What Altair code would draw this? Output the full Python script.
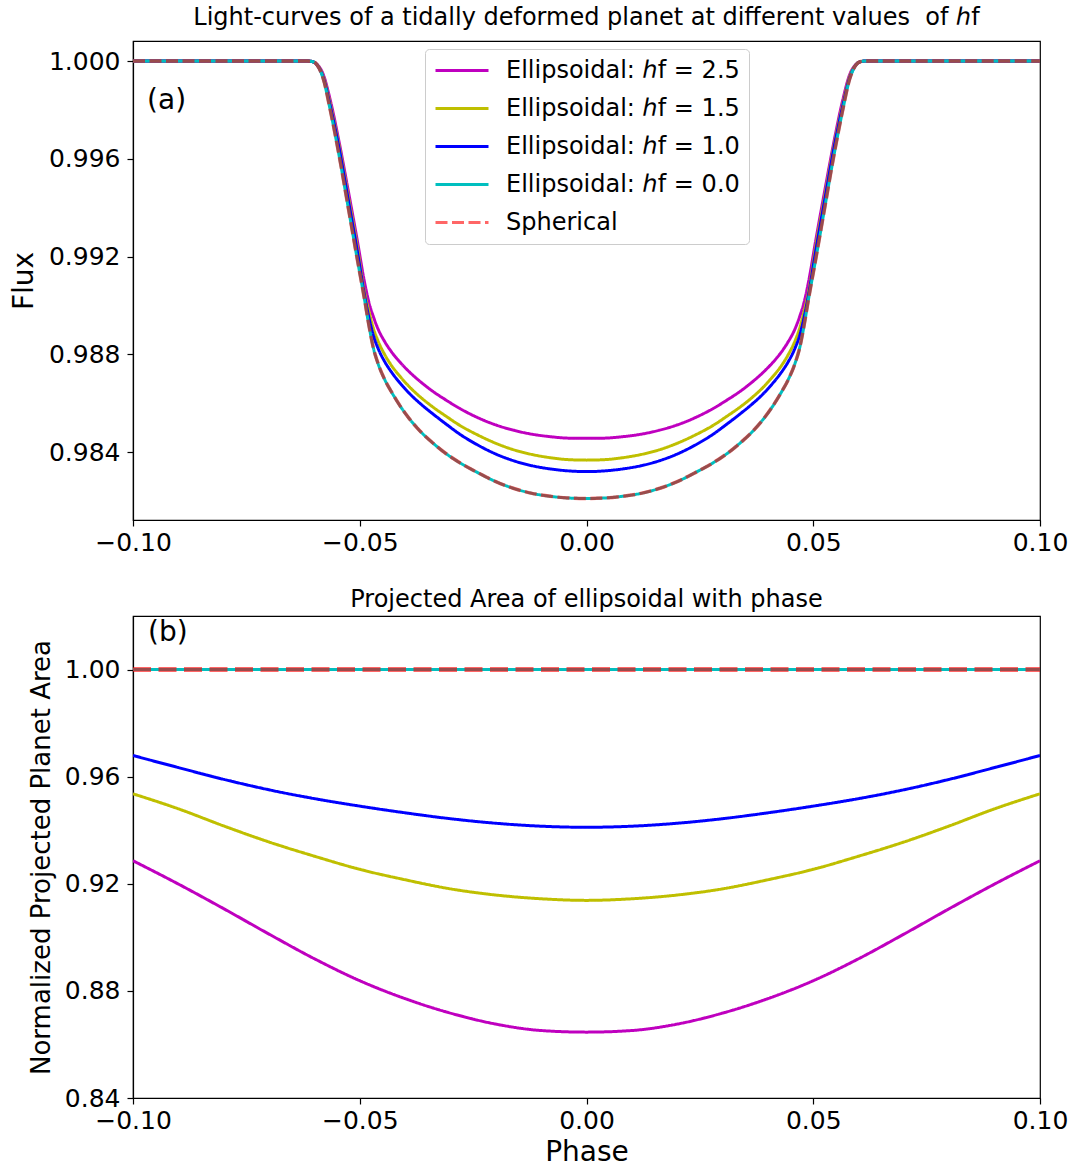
import altair as alt
import pandas as pd

FONT = "DejaVu Sans"

# ---------------- data: panel (a) light curves ----------------
phase_a = [-0.100, -0.090, -0.080, -0.070, -0.0615, -0.0605, -0.0595, -0.058, -0.0565, -0.0545,
           -0.0525, -0.0505, -0.049, -0.048, -0.047, -0.046, -0.0445, -0.043, -0.041, -0.039,
           -0.0365, -0.034, -0.031, -0.028, -0.024, -0.020, -0.016, -0.012, -0.008, -0.004,
           0.000,
           0.004, 0.008, 0.012, 0.016, 0.020, 0.024, 0.028, 0.031, 0.034, 0.0365,
           0.039, 0.041, 0.043, 0.0445, 0.046, 0.047, 0.048, 0.049, 0.0505, 0.0525,
           0.0545, 0.0565, 0.058, 0.0595, 0.0605, 0.0615, 0.070, 0.080, 0.090, 0.100]

flux_h25 = [1.0, 1.0, 1.0, 1.0, 1.0, 0.99998, 0.99988, 0.99943, 0.99840, 0.99664,
            0.99466, 0.99261, 0.99100, 0.99014, 0.98954, 0.98905, 0.98852, 0.98810, 0.98765, 0.98727,
            0.98686, 0.98650, 0.98613, 0.98579, 0.98541, 0.98511, 0.98489, 0.98473, 0.98463, 0.98457,
            0.98456,
            0.98457, 0.98463, 0.98473, 0.98489, 0.98511, 0.98541, 0.98579, 0.98613, 0.98650, 0.98686,
            0.98727, 0.98765, 0.98810, 0.98852, 0.98905, 0.98954, 0.99014, 0.99100, 0.99261, 0.99466,
            0.99664, 0.99840, 0.99943, 0.99988, 0.99998, 1.0, 1.0, 1.0, 1.0, 1.0]

flux_h15 = [1.0, 1.0, 1.0, 1.0, 1.0, 0.99998, 0.99987, 0.99935, 0.99824, 0.99648,
            0.99443, 0.99235, 0.99059, 0.98977, 0.98907, 0.98856, 0.98799, 0.98754, 0.98707, 0.98666,
            0.98623, 0.98586, 0.98547, 0.98510, 0.98470, 0.98436, 0.98409, 0.98390, 0.98377, 0.98369,
            0.98367,
            0.98369, 0.98377, 0.98390, 0.98409, 0.98436, 0.98470, 0.98510, 0.98547, 0.98586, 0.98623,
            0.98666, 0.98707, 0.98754, 0.98799, 0.98856, 0.98907, 0.98977, 0.99059, 0.99235, 0.99443,
            0.99648, 0.99824, 0.99935, 0.99987, 0.99998, 1.0, 1.0, 1.0, 1.0, 1.0]

flux_h10 = [1.0, 1.0, 1.0, 1.0, 1.0, 0.99998, 0.99986, 0.99930, 0.99816, 0.99638,
            0.99429, 0.99218, 0.99047, 0.98952, 0.98877, 0.98826, 0.98770, 0.98727, 0.98680, 0.98639,
            0.98596, 0.98558, 0.98515, 0.98474, 0.98429, 0.98392, 0.98364, 0.98344, 0.98331, 0.98323,
            0.98320,
            0.98323, 0.98331, 0.98344, 0.98364, 0.98392, 0.98429, 0.98474, 0.98515, 0.98558, 0.98596,
            0.98639, 0.98680, 0.98727, 0.98770, 0.98826, 0.98877, 0.98952, 0.99047, 0.99218, 0.99429,
            0.99638, 0.99816, 0.99930, 0.99986, 0.99998, 1.0, 1.0, 1.0, 1.0, 1.0]

flux_h00 = [1.0, 1.0, 1.0, 1.0, 1.0, 0.99998, 0.99986, 0.99924, 0.99799, 0.99608,
            0.99396, 0.99184, 0.99030, 0.98920, 0.98826, 0.98764, 0.98697, 0.98646, 0.98586, 0.98535,
            0.98482, 0.98439, 0.98394, 0.98357, 0.98316, 0.98279, 0.98251, 0.98231, 0.98219, 0.98212,
            0.98210,
            0.98212, 0.98219, 0.98231, 0.98251, 0.98279, 0.98316, 0.98357, 0.98394, 0.98439, 0.98482,
            0.98535, 0.98586, 0.98646, 0.98697, 0.98764, 0.98826, 0.98920, 0.99030, 0.99184, 0.99396,
            0.99608, 0.99799, 0.99924, 0.99986, 0.99998, 1.0, 1.0, 1.0, 1.0, 1.0]

flux_sph = [1.0, 1.0, 1.0, 1.0, 1.0, 0.99998, 0.99986, 0.99924, 0.99799, 0.99608,
            0.99396, 0.99184, 0.99030, 0.98920, 0.98826, 0.98764, 0.98697, 0.98646, 0.98586, 0.98535,
            0.98482, 0.98439, 0.98394, 0.98357, 0.98316, 0.98279, 0.98251, 0.98231, 0.98219, 0.98212,
            0.98210,
            0.98212, 0.98219, 0.98231, 0.98251, 0.98279, 0.98316, 0.98357, 0.98394, 0.98439, 0.98482,
            0.98535, 0.98586, 0.98646, 0.98697, 0.98764, 0.98826, 0.98920, 0.99030, 0.99184, 0.99396,
            0.99608, 0.99799, 0.99924, 0.99986, 0.99998, 1.0, 1.0, 1.0, 1.0, 1.0]

# ---------------- data: panel (b) projected area ----------------
phase_b = [-0.10, -0.09, -0.08, -0.07, -0.06, -0.05, -0.04, -0.03, -0.02, -0.01, 0.00,
           0.01, 0.02, 0.03, 0.04, 0.05, 0.06, 0.07, 0.08, 0.09, 0.10]
area_h25 = [0.9286, 0.9199, 0.9107, 0.9012, 0.8920, 0.8838, 0.8771, 0.8717, 0.8676, 0.8652, 0.8646,
            0.8652, 0.8676, 0.8717, 0.8771, 0.8838, 0.8920, 0.9012, 0.9107, 0.9199, 0.9286]
area_h15 = [0.9536, 0.9480, 0.9416, 0.9356, 0.9303, 0.9254, 0.9215, 0.9181, 0.9158, 0.9144, 0.9138,
            0.9144, 0.9158, 0.9181, 0.9215, 0.9254, 0.9303, 0.9356, 0.9416, 0.9480, 0.9536]
area_h10 = [0.9679, 0.9634, 0.9590, 0.9551, 0.9518, 0.9490, 0.9465, 0.9443, 0.9426, 0.9415, 0.9411,
            0.9415, 0.9426, 0.9443, 0.9465, 0.9490, 0.9518, 0.9551, 0.9590, 0.9634, 0.9679]
area_h00 = [1.0] * 21
area_sph = [1.0] * 21

series_names = ["Ellipsoidal: ℎf = 2.5", "Ellipsoidal: ℎf = 1.5", "Ellipsoidal: ℎf = 1.0",
                "Ellipsoidal: ℎf = 0.0", "Spherical"]
# legend colours (Spherical shown as translucent red, i.e. #ff6666 on white)
series_colors = ["#bf00bf", "#bfbf00", "#0000ff", "#00bfbf", "#ff6666"]
SPH_COLOR = "#ff0000"
SPH_OPACITY = 0.6

x_ticks = [-0.10, -0.05, 0.00, 0.05, 0.10]
y_ticks_a = [0.984, 0.988, 0.992, 0.996, 1.000]
y_ticks_b = [0.84, 0.88, 0.92, 0.96, 1.00]

label_a = pd.DataFrame({"phase": [-0.0969], "value": [0.99836], "txt": ["(a)"]})
label_b = pd.DataFrame({"phase": [-0.0967], "value": [1.0138], "txt": ["(b)"]})

# ---------------- build long tables ----------------
def long_table(phases, columns):
    frames = []
    for name, vals in zip(series_names, columns):
        frames.append(pd.DataFrame({"phase": phases, "value": vals, "series": name}))
    return pd.concat(frames, ignore_index=True)

df_a = long_table(phase_a, [flux_h25, flux_h15, flux_h10, flux_h00, flux_sph])
df_b = long_table(phase_b, [area_h25, area_h15, area_h10, area_h00, area_sph])


def panel(df, ydomain, yticks, yfmt, ytitle, ytitle_size, xtitle, dash_sph, width_sph,
          legend, label_df, title, title_offset, height):
    xscale = alt.Scale(domain=[-0.1, 0.1], nice=False, zero=False)
    yscale = alt.Scale(domain=ydomain, nice=False, zero=False)
    xaxis = alt.Axis(values=x_ticks, format=".2f", title=xtitle, titleFontSize=28,
                     titlePadding=5, labelFlush=False, labelPadding=4)
    yaxis = alt.Axis(values=yticks, format=yfmt, title=ytitle, titleFontSize=ytitle_size,
                     titlePadding=10, labelFlush=False, labelPadding=7)
    dashes = [[1, 0], [1, 0], [1, 0], [1, 0], dash_sph]
    layers = []
    for name in series_names[:4]:
        lyr = alt.Chart(df).transform_filter(alt.datum.series == name).mark_line(
            interpolate="monotone", strokeWidth=3, strokeCap="butt", clip=True
        ).encode(
            x=alt.X("phase:Q", scale=xscale, axis=xaxis),
            y=alt.Y("value:Q", scale=yscale, axis=yaxis),
            color=alt.Color("series:N", scale=alt.Scale(domain=series_names, range=series_colors),
                            legend=legend),
            strokeDash=alt.StrokeDash("series:N", scale=alt.Scale(domain=series_names, range=dashes),
                                      legend=legend),
        )
        layers.append(lyr)
    sph = alt.Chart(df).transform_filter(alt.datum.series == "Spherical").mark_line(
        interpolate="monotone", strokeWidth=width_sph, strokeCap="butt", clip=True,
        color=SPH_COLOR, opacity=SPH_OPACITY, strokeDash=dash_sph
    ).encode(
        x=alt.X("phase:Q", scale=xscale, axis=xaxis),
        y=alt.Y("value:Q", scale=yscale, axis=yaxis),
    )
    layers.append(sph)
    txt = alt.Chart(label_df).mark_text(align="left", baseline="middle", fontSize=28, font=FONT,
                                        color="black").encode(
        x=alt.X("phase:Q", scale=xscale, axis=xaxis),
        y=alt.Y("value:Q", scale=yscale, axis=yaxis),
        text="txt:N",
    )
    layers.append(txt)
    return alt.layer(*layers).properties(
        width=907, height=height,
        title=alt.TitleParams(text=title, offset=title_offset),
    )


legend_a = alt.Legend(title=None, orient="none", legendX=292, legendY=8, symbolType="stroke",
                      symbolSize=2809, symbolStrokeWidth=3, labelFontSize=24, labelFont=FONT,
                      labelColor="black", labelOffset=16, labelLimit=500, clipHeight=25,
                      rowPadding=13, padding=9, strokeColor="#cccccc", fillColor="#ffffff",
                      cornerRadius=4)

top = panel(df_a, [0.98122, 1.00082], y_ticks_a, ".3f", "Flux", 28, None, [12, 4.5], 3.5,
            legend_a, label_a,
            "Light-curves of a tidally deformed planet at different values \u00a0of ℎf", 11, 479)
bottom = panel(df_b, [0.84, 1.02], y_ticks_b, ".2f", "Normalized Projected Planet Area", 26, "Phase",
               [18, 7.5], 5, None, label_b, "Projected Area of ellipsoidal with phase", 4, 482)

chart = alt.vconcat(top, bottom, spacing=31).resolve_scale(
    color="independent", strokeDash="independent"
).properties(
    padding={"left": 9, "top": 5, "right": 5, "bottom": 2}
).configure_axis(
    labelFont=FONT, labelFontSize=25, labelColor="black",
    tickColor="black", tickSize=6, tickWidth=1.2, domainColor="black", domainWidth=1.2,
    grid=False, titleFont=FONT, titleFontWeight="normal", titleColor="black",
).configure_view(
    stroke="black", strokeWidth=1.2
).configure_title(
    font=FONT, fontSize=24, fontWeight="normal", color="black", anchor="middle",
    frame="group"
)

chart.save("out.html", embed_options={"renderer": "svg", "actions": False})
